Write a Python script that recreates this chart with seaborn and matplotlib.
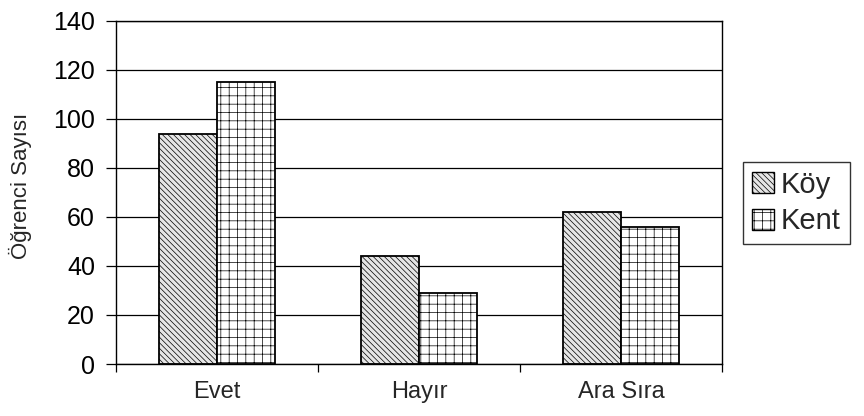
import numpy as np
import pandas as pd
import matplotlib
matplotlib.use('agg')
import seaborn as sns
import matplotlib.pyplot as plt
from matplotlib.ticker import FixedLocator
from matplotlib.patches import Patch

categories = ["Evet", "Hayır", "Ara Sıra"]
koy = [94, 44, 62]
kent = [115, 29, 56]
series = ["Köy", "Kent"]
yticks = [0, 20, 40, 60, 80, 100, 120, 140]


def main(output):
	sns.set_style("white")
	plt.rcParams['font.family'] = ['Liberation Sans', 'DejaVu Sans']
	plt.rcParams['hatch.linewidth'] = 0.5

	df = pd.DataFrame({
		"kategori": categories * 2,
		"sayi": koy + kent,
		"yer": [series[0]] * 3 + [series[1]] * 3,
	})

	fig = plt.figure(figsize=(8.64, 4.16), dpi=100)
	ax = fig.add_axes([0.134, 0.125, 0.702, 0.825])

	faces = ["#e6e6e6", "#ffffff"]
	sns.barplot(data=df, x="kategori", y="sayi", hue="yer", order=categories,
				hue_order=series, palette=faces,
				width=0.575, gap=0, edgecolor="black", linewidth=1.3,
				ax=ax, legend=False)

	hatches = ["\\\\\\\\\\\\", "++"]
	for cont, h in zip(ax.containers, hatches):
		for bar in cont:
			bar.set_hatch(h)
			bar.set_edgecolor("black")

	ax.set_xlim(-0.5, 2.5)
	ax.set_ylim(0, 140)
	ax.set_yticks(yticks)
	ax.yaxis.grid(True, color="black", linewidth=0.9)
	ax.set_axisbelow(True)
	for s in ax.spines.values():
		s.set_visible(True)
		s.set_color("black")
		s.set_linewidth(1.0)

	ax.set_xlabel("")
	ax.set_ylabel("Öğrenci Sayısı", fontsize=16)
	ax.yaxis.set_label_coords(-0.138, 0.52)
	ax.tick_params(axis="y", which="major", direction="out", length=7,
				   width=0.9, colors="black", labelsize=18, pad=8, left=True)
	ax.tick_params(axis="x", which="major", length=0, labelsize=17, pad=12)
	ax.xaxis.set_minor_locator(FixedLocator([-0.5, 0.5, 1.5, 2.5]))
	ax.tick_params(axis="x", which="minor", direction="out", length=6,
				   width=0.9, color="black", bottom=True)

	handles = [Patch(facecolor=faces[0], edgecolor="black", hatch=hatches[0]),
			   Patch(facecolor=faces[1], edgecolor="black", hatch=hatches[1])]
	leg = fig.legend(handles, series, loc="center left",
					 bbox_to_anchor=(0.86, 0.512), fontsize=21,
					 frameon=True, fancybox=False, edgecolor="black",
					 handlelength=0.75, handleheight=0.75, handletextpad=0.25,
					 borderpad=0.3, borderaxespad=0.0, labelspacing=0.3)
	leg.get_frame().set_linewidth(1.0)

	fig.savefig(output, dpi=100)


if __name__ == "__main__":
	main("out.png")
